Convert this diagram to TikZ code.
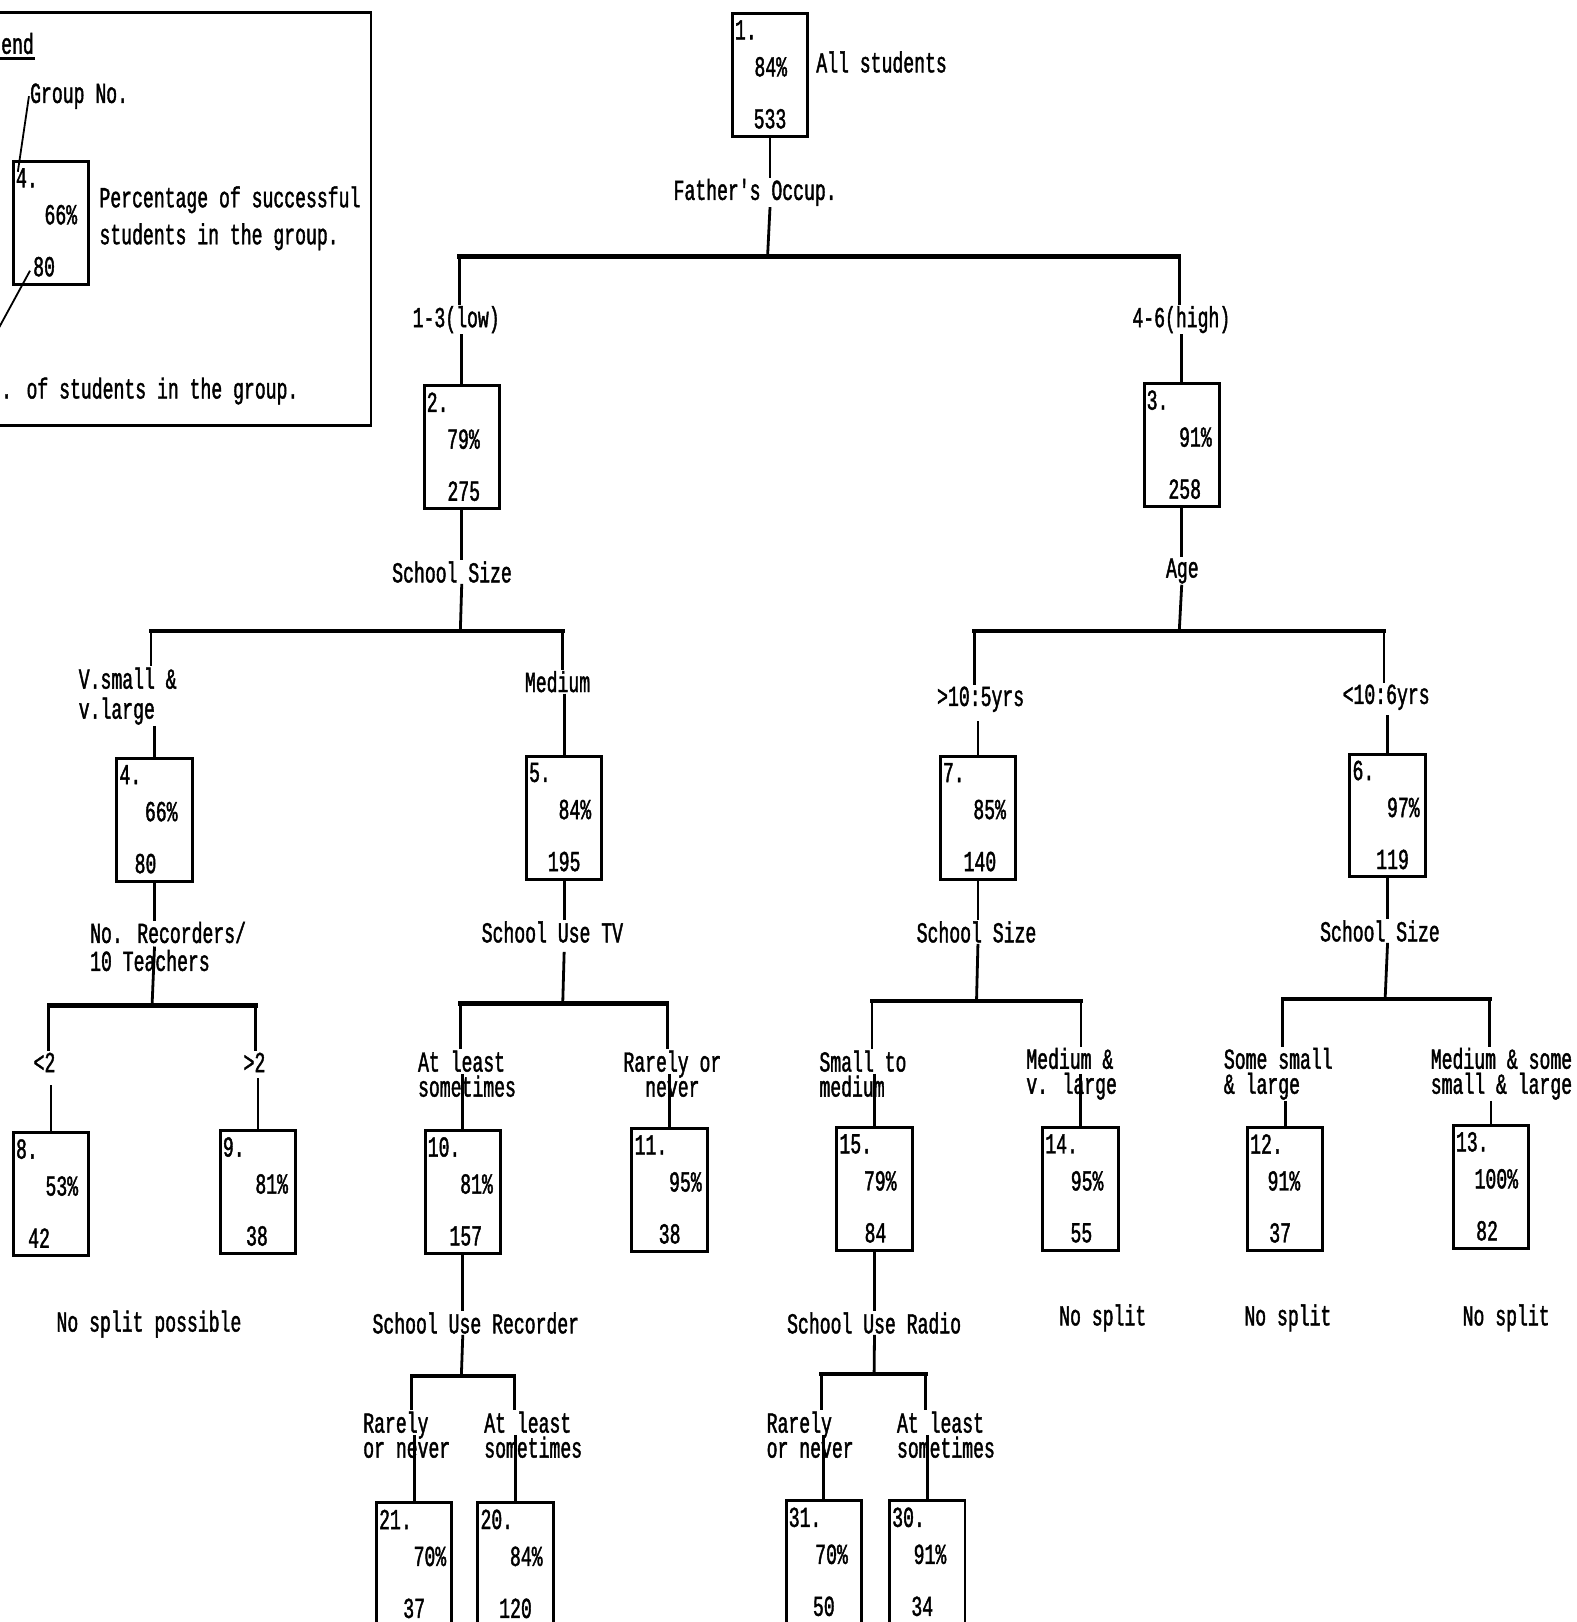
\documentclass[tikz,border=0pt]{standalone}
\usepackage{fontspec}
\newfontfamily\tw[FakeStretch=0.625,FakeBold=1.4]{Liberation Mono}
\usetikzlibrary{calc}
\tikzset{
  lab/.style={font=\tw\fontsize{29}{25}\selectfont, inner sep=1pt, align=left},
  gbox/.style={draw, line width=3pt, minimum width=75.5pt, minimum height=123pt,
    anchor=north west, inner sep=0pt, xshift=1.5pt, yshift=-1.5pt},
  conn/.style={line width=2.8pt},
  bar/.style={line width=4.2pt, line cap=rect},
  lead/.style={line width=1.8pt},
}
% #2 name, #3 x, #4 y, #5 group no., #6 percent, #7 count, #8 percent right offset, #9 count x offset
\newcommand\grpbox[9][]{%
  \node[gbox,#1] (#2) at (#3,#4) {};
  \node[lab,anchor=west] (#2n) at ([xshift=3pt,yshift=-18pt]#2.north west) {#5.};
  \node[lab,anchor=east] (#2p) at ([xshift=-#8pt,yshift=-55pt]#2.north east) {#6\%};
  \node[lab] (#2c) at ([xshift=#9pt,yshift=-107pt]#2.north) {#7};
}
\begin{document}
\begin{tikzpicture}[x=1.0348pt,y=-1.0348pt]
\useasboundingbox (0,0) rectangle (1524,1568);
\fill[white] (0,0) rectangle (1524,1568);

% ---------------- legend ----------------
\node[draw, line width=2.8pt, anchor=north west, minimum width=380pt, minimum height=413pt, inner sep=0pt] (legend) at (-10,11) {};
\node[lab,anchor=west] (legt) at (0,42) {end};
\draw[line width=2.8pt] ([yshift=-3pt]legt.south west) -- ([yshift=-3pt]legt.south east);
\node[lab,anchor=west] (lgn) at (28,93) {Group No.};
\grpbox{lb}{10}{153}{4}{66}{80}{12}{-7}
\node[lab,anchor=west,font=\tw\fontsize{29}{37}\selectfont] (lpct) at (95,211) {Percentage of successful\\students in the group.};
\node[lab,anchor=west] (lno) at (0,378) {. of students in the group.};
\coordinate (lfree) at (-6,326);
\draw[lead] (lgn.west) -- ([xshift=6pt,yshift=-12pt]lb.north west);
\draw[lead] ([xshift=-2pt,yshift=-4pt]lbc.west) -- (lfree);

% ---------------- level 1 ----------------
\grpbox{b1}{705}{10}{1}{84}{533}{21}{0}
\node[lab,anchor=west] (all) at (788,60) {All students};
\node[lab] (s1) at (730,186) {Father's Occup.};
\coordinate (j1) at (742,248);
\coordinate (l1) at (444,248);
\coordinate (r1) at (1140,248);
\draw[conn] (b1.south) -- (b1.south |- s1.north);
\draw[conn] (b1.south |- s1.south) -- (j1);
\draw[bar] (l1) -- (r1);
\node[lab] (e2) at (441,309) {1-3(low)};
\node[lab] (e3) at (1142,309) {4-6(high)};

\grpbox{b2}{407}{370}{2}{79}{275}{20}{2}
\grpbox{b3}{1103}{368}{3}{91}{258}{8}{3}
\draw[conn] (l1) -- (l1 |- e2.north);
\draw[conn] (b2.north |- e2.south) -- (b2.north);
\draw[conn] (r1) -- (r1 |- e3.north);
\draw[conn] (b3.north |- e3.south) -- (b3.north);

% ---------------- split of group 2 ----------------
\node[lab] (s2) at (437,553) {School Size};
\coordinate (j2) at (445,610);
\coordinate (l2) at (146,610);
\coordinate (r2) at (544,610);
\draw[conn] (b2.south) -- (b2.south |- s2.north);
\draw[conn] (b2.south |- s2.south) -- (j2);
\draw[bar] (l2) -- (r2);
\node[lab,anchor=west,font=\tw\fontsize{29}{30}\selectfont] (e4) at (75,673) {V.small \&\\v.large};
\node[lab] (e5) at (539,659) {Medium};
\grpbox{b4}{110}{730}{4}{66}{80}{15}{-9}
\grpbox{b5}{506}{728}{5}{84}{195}{11}{0}
\draw[conn] (l2) -- (l2 |- e4.north);
\draw[conn] (b4.north |- e4.south) -- (b4.north);
\draw[conn] (r2) -- (r2 |- e5.north);
\draw[conn] (b5.north |- e5.south) -- (b5.north);

% ---------------- split of group 3 ----------------
\node[lab] (s3) at (1143,552) {Age};
\coordinate (j3) at (1140,610);
\coordinate (l3) at (942,610);
\coordinate (r3) at (1338,610);
\draw[conn] (b3.south) -- (b3.south |- s3.north);
\draw[conn] (b3.south |- s3.south) -- (j3);
\draw[bar] (l3) -- (r3);
\node[lab] (e7) at (948,676) {>10:5yrs};
\node[lab] (e6) at (1340,674) {<10:6yrs};
\grpbox{b7}{906}{728}{7}{85}{140}{10}{2}
\grpbox{b6}{1302}{726}{6}{97}{119}{6}{5}
\draw[conn] (l3) -- (l3 |- e7.north);
\draw[conn] ([yshift=-8pt]b7.north |- e7.south) -- (b7.north);
\draw[conn] (r3) -- (r3 |- e6.north);
\draw[conn] ([yshift=-4pt]b6.north |- e6.south) -- (b6.north);

% ---------------- split of group 4 ----------------
\node[lab,anchor=west,font=\tw\fontsize{29}{28}\selectfont] (s4) at (86,915) {No. Recorders/\\10 Teachers};
\coordinate (j4) at (147,972);
\coordinate (l4) at (47,972);
\coordinate (r4) at (247,972);
\draw[conn] (b4.south) -- (b4.south |- s4.north);
\draw[conn] (b4.south |- s4.center) -- (j4);
\draw[bar] (l4) -- (r4);
\node[lab] (e8) at (43,1027) {<2};
\node[lab] (e9) at (246,1027) {>2};
\grpbox{b8}{10}{1092}{8}{53}{42}{11}{-12}
\grpbox{b9}{210}{1090}{9}{81}{38}{8}{-1}
\draw[conn] (l4) -- (l4 |- e8.north);
\draw[conn] ([yshift=-12pt]b8.north |- e8.south) -- (b8.north);
\draw[conn] (r4) -- (r4 |- e9.north);
\draw[conn] ([yshift=-5pt]b9.north |- e9.south) -- (b9.north);
\node[lab] (ns8) at (144,1280) {No split possible};

% ---------------- split of group 5 ----------------
\node[lab] (s5) at (534,901) {School Use TV};
\coordinate (j5) at (544,970);
\coordinate (l5) at (445,970);
\coordinate (r5) at (645,970);
\draw[conn] (b5.south) -- (b5.south |- s5.north);
\draw[conn] ([yshift=-8pt]b5.south |- s5.south) -- (j5);
\draw[bar] (l5) -- (r5);
\node[lab,anchor=west] (e10) at (403,1038) {At least\\sometimes};
\node[lab,align=center] (e11) at (650,1038) {Rarely or\\never};
\grpbox{b10}{408}{1090}{10}{81}{157}{8}{3}
\grpbox{b11}{608}{1088}{11}{95}{38}{6}{0}
\draw[conn] (l5) -- (l5 |- e10.north);
\draw[conn] (b10.north |- e10.center) -- (b10.north);
\draw[conn] (r5) -- (r5 |- e11.north);
\draw[conn] (b11.north |- e11.center) -- (b11.north);

% ---------------- split of group 10 ----------------
\node[lab] (s10) at (460,1279) {School Use Recorder};
\coordinate (j10) at (446,1330);
\coordinate (l10) at (398,1330);
\coordinate (r10) at (497,1330);
\draw[conn] (b10.south) -- (b10.south |- s10.north);
\draw[conn] (b10.south |- s10.south) -- (j10);
\draw[bar] (l10) -- (r10);
\node[lab,anchor=west] (e21) at (350,1387) {Rarely\\or never};
\node[lab,anchor=west] (e20) at (467,1387) {At least\\sometimes};
\grpbox[minimum height=160pt]{b21}{361}{1450}{21}{70}{37}{6}{0}
\grpbox[minimum height=160pt]{b20}{459}{1450}{20}{84}{120}{11}{0}
\draw[conn] (l10) -- (l10 |- e21.north);
\draw[conn] (b21.north |- e21.center) -- (b21.north);
\draw[conn] (r10) -- (r10 |- e20.north);
\draw[conn] (b20.north |- e20.center) -- (b20.north);

% ---------------- split of group 7 ----------------
\node[lab] (s7) at (944,901) {School Size};
\coordinate (j7) at (944,968);
\coordinate (l7) at (843,968);
\coordinate (r7) at (1045,968);
\draw[conn] (b7.south) -- (b7.south |- s7.north);
\draw[conn] (b7.south |- s7.south) -- (j7);
\draw[bar] (l7) -- (r7);
\node[lab,anchor=west] (e15) at (791,1038) {Small to\\medium};
\node[lab,anchor=west] (e14) at (991,1038) {Medium \&\\v. large};
\grpbox{b15}{806}{1087}{15}{79}{84}{16}{1}
\grpbox{b14}{1005}{1087}{14}{95}{55}{15}{1}
\draw[conn] (l7) -- (l7 |- e15.north);
\draw[conn] (b15.north |- e15.center) -- (b15.north);
\draw[conn] (r7) -- (r7 |- e14.north);
\draw[conn] (b14.north |- e14.center) -- (b14.north);
\node[lab] (ns14) at (1066,1274) {No split};

% ---------------- split of group 15 ----------------
\node[lab] (s15) at (845,1279) {School Use Radio};
\coordinate (j15) at (845,1328);
\coordinate (l15) at (794,1328);
\coordinate (r15) at (895,1328);
\draw[conn] (b15.south) -- (b15.south |- s15.north);
\draw[conn] (b15.south |- s15.south) -- (j15);
\draw[bar] (l15) -- (r15);
\node[lab,anchor=west] (e31) at (740,1387) {Rarely\\or never};
\node[lab,anchor=west] (e30) at (866,1387) {At least\\sometimes};
\grpbox[minimum height=160pt]{b31}{757}{1448}{31}{70}{50}{14}{0}
\grpbox[minimum height=160pt]{b30}{857}{1448}{30}{91}{34}{19}{-5}
\draw[conn] (l15) -- (l15 |- e31.north);
\draw[conn] (b31.north |- e31.center) -- (b31.north);
\draw[conn] (r15) -- (r15 |- e30.north);
\draw[conn] (b30.north |- e30.center) -- (b30.north);

% ---------------- split of group 6 ----------------
\node[lab] (s6) at (1334,900) {School Size};
\coordinate (j6) at (1339,966);
\coordinate (l6) at (1240,966);
\coordinate (r6) at (1440,966);
\draw[conn] (b6.south) -- (b6.south |- s6.north);
\draw[conn] (b6.south |- s6.south) -- (j6);
\draw[bar] (l6) -- (r6);
\node[lab,anchor=west] (e12) at (1182,1038) {Some small\\\& large};
\node[lab,anchor=west] (e13) at (1382,1038) {Medium \& some\\small \& large};
\grpbox{b12}{1203}{1087}{12}{91}{37}{23}{-5}
\grpbox{b13}{1402}{1085}{13}{100}{82}{11}{-4}
\draw[conn] (l6) -- (l6 |- e12.north);
\draw[conn] (b12.north |- e12.south) -- (b12.north);
\draw[conn] (r6) -- (r6 |- e13.north);
\draw[conn] (b13.north |- e13.south) -- (b13.north);
\node[lab] (ns12) at (1245,1274) {No split};
\node[lab] (ns13) at (1456,1274) {No split};
\end{tikzpicture}
\end{document}
